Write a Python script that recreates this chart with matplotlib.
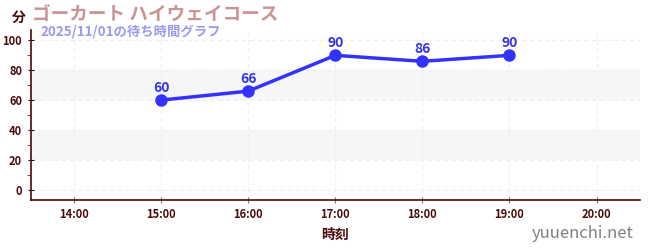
import matplotlib
matplotlib.use('Agg')
import matplotlib.pyplot as plt
from matplotlib.ticker import MultipleLocator, FuncFormatter

plt.rcParams['font.family'] = ['Noto Sans CJK JP', 'DejaVu Sans']

# data
hours = [15, 16, 17, 18, 19]
waits = [60, 66, 90, 86, 90]
xticks = [14, 15, 16, 17, 18, 19, 20]

title = 'ゴーカート ハイウェイコース'
subtitle = '2025/11/01の待ち時間グラフ'
dark = '#4a0a0a'

fig = plt.figure(figsize=(6.5, 2.5), dpi=100)
ax = fig.add_axes([0.047, 0.2, 0.9377, 0.68])

ax.set_xlim(13.5, 20.5)
ax.set_ylim(-7, 107)

# alternating bands
for lo in (20, 60):
    ax.axhspan(lo, lo + 20, color='#f6f6f6', zorder=0, lw=0)

ax.set_xticks(xticks)
ax.xaxis.set_major_formatter(FuncFormatter(lambda v, p: '%d:00' % v))
ax.yaxis.set_major_locator(MultipleLocator(20))
ax.yaxis.set_minor_locator(MultipleLocator(10))
ax.grid(True, which='major', color='#eeeeee', ls=(0, (4, 3)), lw=0.8, zorder=0)

ax.plot(hours, waits, color='#3333ff', lw=2.5, marker='o', ms=8, zorder=3)
for h, w in zip(hours, waits):
    ax.annotate(str(w), (h, w), xytext=(0, 4), textcoords='offset points',
                ha='center', va='bottom', color='#3333dd',
                fontsize=10, fontweight='bold')

for s in ('top', 'right'):
    ax.spines[s].set_visible(False)
for s in ('left', 'bottom'):
    ax.spines[s].set_color(dark)
    ax.spines[s].set_linewidth(1.2)

ax.tick_params(axis='y', which='major', colors=dark, labelsize=8, length=5, direction='inout')
ax.tick_params(axis='x', which='major', color='#777777', labelcolor=dark, labelsize=8,
               length=5, direction='inout')
ax.tick_params(axis='y', which='minor', colors='#cc0000', length=3)
for lab in ax.get_xticklabels() + ax.get_yticklabels():
    lab.set_fontweight('bold')

ax.set_xlabel('時刻', color=dark, fontsize=10, fontweight='bold', labelpad=5)

fig.text(0.018, 0.93, '分', color=dark, fontsize=10, fontweight='bold', va='center')
fig.text(0.05, 0.942, title, color='#c89494', fontsize=13.4, fontweight='bold', va='center')
fig.text(0.062, 0.872, subtitle, color='#9a9af0', fontsize=9.6, fontweight='bold', va='center')
fig.text(0.975, 0.068, 'yuuenchi.net', color='#808080', fontsize=12, ha='right', va='center')

fig.savefig('out.png')
